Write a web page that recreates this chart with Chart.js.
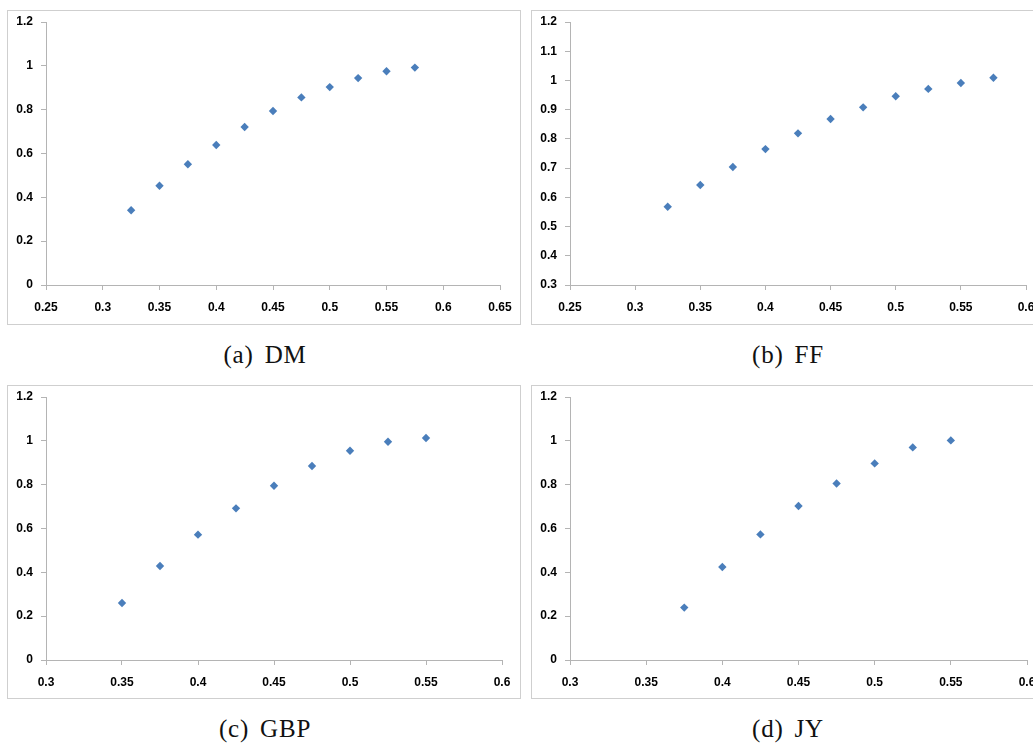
<!DOCTYPE html>
<html>
<head>
<meta charset="utf-8">
<script src="https://cdn.jsdelivr.net/npm/chart.js@4.4.1/dist/chart.umd.min.js"></script>
<style>
  html, body { margin: 0; padding: 0; background: #fff; }
  body { width: 1033px; height: 743px; overflow: hidden; position: relative; }
  .box { position: absolute; box-sizing: border-box; border: 1px solid #cfcfcf; background: #fff; }
  .inner { position: relative; width: 100%; height: 100%; }
  .cap { position: absolute; width: 300px; text-align: center; font-family: "Liberation Serif", serif;
         font-size: 25px; line-height: 25px; color: #111; letter-spacing: 0.8px; white-space: nowrap; }
  .cap .g { display: inline-block; width: 11px; }
</style>
</head>
<body>
<div class="box" id="boxA" style="left:7px; top:10px; width:514px; height:315px;"><div class="inner"><canvas id="cA"></canvas></div></div>
<div class="box" id="boxB" style="left:531px; top:10px; width:520px; height:315px;"><div class="inner"><canvas id="cB"></canvas></div></div>
<div class="box" id="boxC" style="left:7px; top:385px; width:514px; height:314px;"><div class="inner"><canvas id="cC"></canvas></div></div>
<div class="box" id="boxD" style="left:531px; top:385px; width:520px; height:314px;"><div class="inner"><canvas id="cD"></canvas></div></div>

<div class="cap" style="left:115px; top:342px;">(a)<span class="g"></span>DM</div>
<div class="cap" style="left:638px; top:342px;">(b)<span class="g"></span>FF</div>
<div class="cap" style="left:115px; top:716px;">(c)<span class="g"></span>GBP</div>
<div class="cap" style="left:638px; top:716px;">(d)<span class="g"></span>JY</div>

<script>
// ---- Data ----
const xDM = [0.325, 0.35, 0.375, 0.4, 0.425, 0.45, 0.475, 0.5, 0.525, 0.55, 0.575];
const yDM = [0.341, 0.453, 0.551, 0.639, 0.721, 0.794, 0.856, 0.903, 0.944, 0.975, 0.992];

const xFF = [0.325, 0.35, 0.375, 0.4, 0.425, 0.45, 0.475, 0.5, 0.525, 0.55, 0.575];
const yFF = [0.568, 0.642, 0.704, 0.765, 0.819, 0.868, 0.908, 0.946, 0.971, 0.991, 1.009];

const xGBP = [0.35, 0.375, 0.4, 0.425, 0.45, 0.475, 0.5, 0.525, 0.55];
const yGBP = [0.260, 0.429, 0.572, 0.692, 0.795, 0.885, 0.955, 0.996, 1.013];

const xJY = [0.375, 0.4, 0.425, 0.45, 0.475, 0.5, 0.525, 0.55];
const yJY = [0.239, 0.424, 0.573, 0.703, 0.805, 0.897, 0.970, 1.002];

// ---- Tick values ----
const xTicksDM  = [0.25, 0.3, 0.35, 0.4, 0.45, 0.5, 0.55, 0.6, 0.65];
const yTicksDM  = [0, 0.2, 0.4, 0.6, 0.8, 1, 1.2];
const xTicksFF  = [0.25, 0.3, 0.35, 0.4, 0.45, 0.5, 0.55, 0.6];
const yTicksFF  = [0.3, 0.4, 0.5, 0.6, 0.7, 0.8, 0.9, 1, 1.1, 1.2];
const xTicksGBP = [0.3, 0.35, 0.4, 0.45, 0.5, 0.55, 0.6];
const yTicksGBP = [0, 0.2, 0.4, 0.6, 0.8, 1, 1.2];
const xTicksJY  = [0.3, 0.35, 0.4, 0.45, 0.5, 0.55, 0.6];
const yTicksJY  = [0, 0.2, 0.4, 0.6, 0.8, 1, 1.2];

const AXIS = '#b4b4b4';
const MARK = '#4a7ebb';
const TICKFONT = { family: '"Liberation Sans", Arial, sans-serif', size: 12, weight: 'bold' };

function fmt(v) { return String(+(+v).toFixed(3)); }

function makeChart(id, xs, ys, xt, yt, layout) {
  const pts = xs.map((x, i) => ({ x: x, y: ys[i] }));
  const axisCommon = {
    type: 'linear',
    grid: { display: true, drawOnChartArea: false, drawTicks: true, tickLength: 5, color: AXIS, lineWidth: 1 },
    border: { display: true, color: AXIS, width: 1 },
  };
  return new Chart(document.getElementById(id), {
    type: 'scatter',
    data: { datasets: [{ data: pts, pointStyle: 'rectRot', pointRadius: 4.2, pointHoverRadius: 4.2,
                         backgroundColor: MARK, borderColor: MARK, borderWidth: 0 }] },
    options: {
      responsive: true, maintainAspectRatio: false, animation: false,
      devicePixelRatio: 1,
      layout: { padding: { top: layout.top, right: layout.right, left: 0, bottom: 0 } },
      plugins: { legend: { display: false }, tooltip: { enabled: false } },
      scales: {
        x: Object.assign({}, axisCommon, {
          position: 'bottom',
          min: xt[0], max: xt[xt.length - 1],
          afterBuildTicks: s => { s.ticks = xt.map(v => ({ value: v })); },
          afterFit: s => { s.height = layout.xh; s.paddingLeft = 0; s.paddingRight = 0; },
          ticks: { color: '#000', font: TICKFONT, padding: 10, maxRotation: 0, autoSkip: false, callback: v => fmt(v) }
        }),
        y: Object.assign({}, axisCommon, {
          position: 'left',
          min: yt[0], max: yt[yt.length - 1],
          afterBuildTicks: s => { s.ticks = yt.map(v => ({ value: v })); },
          afterFit: s => { s.width = layout.yw; s.paddingTop = 0; s.paddingBottom = 0; },
          ticks: { color: '#000', font: TICKFONT, padding: 8, autoSkip: false, callback: v => fmt(v) }
        })
      }
    }
  });
}

makeChart('cA', xDM, yDM, xTicksDM, yTicksDM, { top: 11, right: 20, xh: 39, yw: 38 });
makeChart('cB', xFF, yFF, xTicksFF, yTicksFF, { top: 11, right: 24, xh: 39, yw: 38 });
makeChart('cC', xGBP, yGBP, xTicksGBP, yTicksGBP, { top: 11, right: 18, xh: 38, yw: 38 });
makeChart('cD', xJY, yJY, xTicksJY, yTicksJY, { top: 11, right: 23, xh: 38, yw: 38 });
</script>
</body>
</html>
